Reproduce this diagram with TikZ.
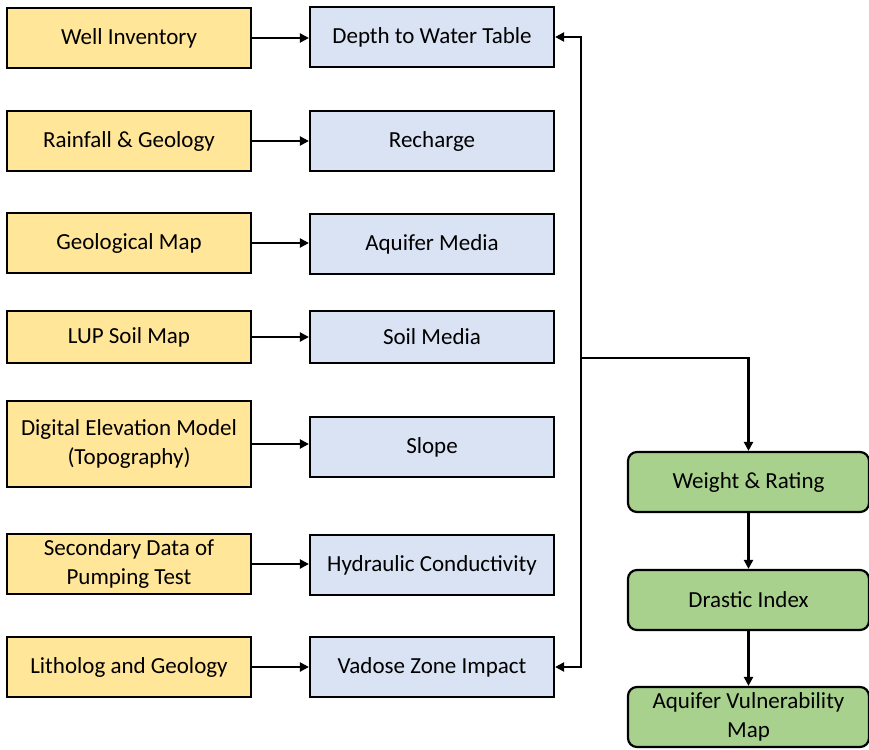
\documentclass[tikz,border=0pt]{standalone}
\usepackage{fontspec}
\setmainfont{Carlito}
\usepackage{tikz}
\usetikzlibrary{arrows.meta, positioning, calc}
\definecolor{inputYellow}{HTML}{FFE699}
\definecolor{paramBlue}{HTML}{DAE3F3}
\definecolor{stepGreen}{HTML}{A9D18E}
\tikzset{
    inbox/.style={draw=black, line width=2.2pt, fill=inputYellow, minimum width=244pt, align=center, font=\fontsize{23}{29}\selectfont, inner sep=0pt},
    parbox/.style={draw=black, line width=2.2pt, fill=paramBlue, minimum width=244pt, minimum height=60pt, align=center, font=\fontsize{23}{29}\selectfont, inner sep=0pt},
    stepbox/.style={draw=black, line width=2.2pt, fill=stepGreen, rounded corners=9pt, minimum width=241pt, minimum height=60pt, align=center, font=\fontsize{23}{29}\selectfont, inner sep=0pt},
    flow/.style={-{Triangle[length=9pt, width=9pt]}, line width=2.2pt}
}
\begin{document}
\begin{tikzpicture}[x=1pt, y=1pt]
        \useasboundingbox (0,0) rectangle (869,-749);
        % Input data
        \node[inbox, minimum height=60pt] (i1) at (129,-38) {Well Inventory};
        \node[inbox, minimum height=60pt] (i2) at (129,-141) {Rainfall \& Geology};
        \node[inbox, minimum height=60pt] (i3) at (129,-243) {Geological Map};
        \node[inbox, minimum height=52pt] (i4) at (129,-337) {LUP Soil Map};
        \node[inbox, minimum height=86pt] (i5) at (129,-444) {Digital Elevation Model\\(Topography)};
        \node[inbox, minimum height=60pt] (i6) at (129,-564) {Secondary Data of\\Pumping Test};
        \node[inbox, minimum height=60pt] (i7) at (129,-667) {Litholog and Geology};

        % DRASTIC parameters
        \node[parbox] (p1) at (432,-37) {Depth to Water Table};
        \node[parbox] (p2) at (432,-141) {Recharge};
        \node[parbox] (p3) at (432,-244) {Aquifer Media};
        \node[parbox, minimum height=52pt] (p4) at (432,-337) {Soil Media};
        \node[parbox] (p5) at (432,-447) {Slope};
        \node[parbox] (p6) at (432,-565) {Hydraulic Conductivity};
        \node[parbox] (p7) at (432,-667) {Vadose Zone Impact};

        \foreach \k in {1,...,7} {
            \draw[flow] (i\k.east) -- (i\k.east -| p\k.west);
        }

        % Processing
        \node[stepbox] (weight) at (748.5,-482) {Weight \& Rating};
        \node[stepbox] (index) at (748.5,-600) {Drastic Index};
        \node[stepbox] (vmap) at (748.5,-717) {Aquifer Vulnerability\\Map};

        \coordinate (bus) at (581,-358);
        \draw[flow] (bus) |- (p1.east);
        \draw[flow] (bus) |- (p7.east);
        \draw[flow] (bus) -| (weight.north);
        \draw[flow] (weight) -- (index);
        \draw[flow] (index) -- (vmap);
    \end{tikzpicture}
\end{document}
